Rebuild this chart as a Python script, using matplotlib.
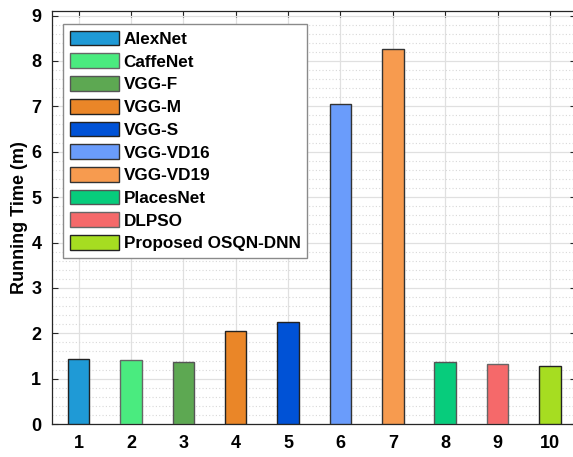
import matplotlib
matplotlib.use("Agg")
import matplotlib.pyplot as plt
from matplotlib.ticker import MultipleLocator

plt.rcParams['font.family'] = ['Liberation Sans', 'DejaVu Sans']
plt.rcParams['font.weight'] = 'bold'

methods = ["AlexNet", "CaffeNet", "VGG-F", "VGG-M", "VGG-S", "VGG-VD16",
           "VGG-VD19", "PlacesNet", "DLPSO", "Proposed OSQN-DNN"]
positions = [1, 2, 3, 4, 5, 6, 7, 8, 9, 10]
running_time = [1.44, 1.42, 1.37, 2.06, 2.25, 7.05, 8.27, 1.37, 1.33, 1.27]
colors = ["#1f9ad6", "#4aeb7f", "#5da852", "#ea8628", "#0052d6",
          "#6a9cfb", "#f79b4f", "#07cc7c", "#f5696a", "#a6dd21"]
edges = ["#222222", "#666666", "#555555", "#222222", "#222222",
         "#333333", "#333333", "#555555", "#666666", "#222222"]

fig = plt.figure(figsize=(5.73, 4.57), dpi=100)
ax = fig.add_axes([0.0915, 0.072, 0.914, 0.904])

for p, v, c, e, m in zip(positions, running_time, colors, edges, methods):
    ax.bar(p, v, width=0.41, color=c, edgecolor=e, linewidth=1.0, label=m, zorder=3)

ax.set_xlim(0.5, 10.5)
ax.set_ylim(0, 9.1)
ax.set_xticks(positions)
ax.set_yticks(range(0, 10))
ax.yaxis.set_minor_locator(MultipleLocator(0.2))
ax.grid(True, which='major', color='#e0e0e0', linewidth=0.9, zorder=0)
ax.grid(True, which='minor', axis='y', color='#d8d8d8', linestyle=(0, (1, 2)), linewidth=0.8, zorder=0)
ax.set_axisbelow(True)
ax.tick_params(axis='both', which='major', direction='in', length=4, labelsize=13,
               top=True, right=True, pad=8, color='#262626')
ax.tick_params(axis='y', which='minor', length=0)
for lab in ax.get_xticklabels() + ax.get_yticklabels():
    lab.set_fontweight('bold')
for s in ax.spines.values():
    s.set_color('#262626')
    s.set_linewidth(0.9)

ax.set_ylabel("Running Time (m)", fontsize=13, fontweight='bold', labelpad=2)

leg = ax.legend(loc='upper left', bbox_to_anchor=(0.020, 0.969),
                prop={'weight': 'bold', 'size': 12.3},
                handlelength=2.9, handleheight=0.95, labelspacing=0.38,
                handletextpad=0.25, borderpad=0.4, borderaxespad=0.0,
                fancybox=False, framealpha=1, edgecolor='#8a8a8a')
leg.get_frame().set_linewidth(1.0)

fig.savefig("out.png", dpi=100)
